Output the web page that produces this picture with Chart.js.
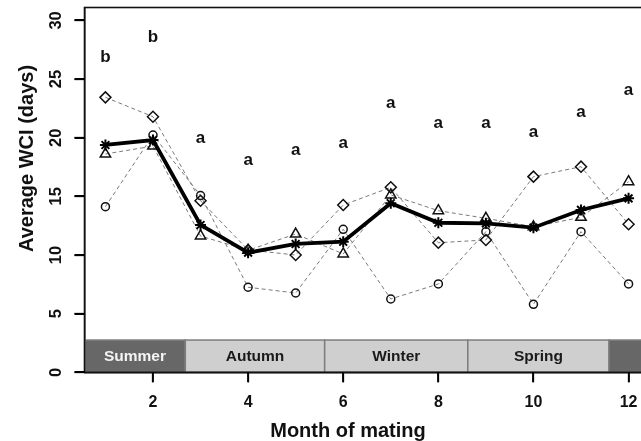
<!DOCTYPE html>
<html><head><meta charset="utf-8">
<script src="https://cdn.jsdelivr.net/npm/chart.js@4.4.0/dist/chart.umd.min.js"></script>
<style>
html,body{margin:0;padding:0;background:#fff;overflow:hidden;width:641px;height:441px}
#wrap{position:relative;width:660px;height:441px}
</style></head>
<body><div id="wrap"><canvas id="c" width="660" height="441"></canvas></div>
<script>
// ---- data ----
const months = [1,2,3,4,5,6,7,8,9,10,11,12];
const meanWCI     = [19.38,19.80,12.56,10.20,10.94,11.13,14.41,12.75,12.70,12.33,13.84,14.83];
const diamondWCI  = [23.44,21.79,14.63,10.43,10.00,14.26,15.77,11.05,11.28,16.68,17.53,12.62];
const triangleWCI = [18.61,19.29,11.62,10.40,11.79,10.09,15.12,13.78,13.13,12.40,13.21,16.25];
const circleWCI   = [14.12,20.23,15.07,7.25,6.76,12.19,6.25,7.53,11.99,5.80,11.99,7.53];
const groupLetters = ['b','b','a','a','a','a','a','a','a','a','a','a'];
const letterY      = [26.85,28.6,19.95,18.1,18.95,19.5,22.9,21.2,21.2,20.5,22.2,24.0];
const xTicks = [2,4,6,8,10,12];
const yTicks = [0,5,10,15,20,25,30];
const seasons     = ['Summer','Autumn','Winter','Spring',''];
const seasonStart = [0.56,2.68,5.61,8.62,11.59];
const seasonEnd   = [2.68,5.61,8.62,11.59,12.44];
const seasonTop = 2.75;
const xTitle = 'Month of mating';
const yTitle = 'Average WCI (days)';

const FONT = '"Liberation Sans", Arial, Helvetica, sans-serif';
const pts = arr => months.map((m,i)=>({x:m,y:arr[i]}));

const decor = {
  id:'decor',
  beforeDatasetsDraw(chart){
    const {ctx, chartArea:a, scales:{x,y}} = chart;
    ctx.save();
    ctx.beginPath(); ctx.rect(a.left,a.top,a.right-a.left,a.bottom-a.top); ctx.clip();
    const yb = y.getPixelForValue(0), yt = y.getPixelForValue(seasonTop);
    seasons.forEach((s,i)=>{
      const x0 = x.getPixelForValue(seasonStart[i]), x1 = x.getPixelForValue(seasonEnd[i]);
      const dark = (i===0 || i===seasons.length-1);
      ctx.fillStyle = dark ? '#676767' : '#cfcfcf';
      ctx.fillRect(x0,yt,x1-x0,yb-yt);
      ctx.strokeStyle = '#7d7d7d'; ctx.lineWidth = 1.5;
      ctx.strokeRect(x0,yt,x1-x0,yb-yt);
      if (s) {
        ctx.fillStyle = dark ? '#f4f4f4' : '#1a1a1a';
        ctx.font = 'bold 15.5px ' + FONT;
        ctx.textAlign = 'center'; ctx.textBaseline = 'middle';
        ctx.fillText(s,(x0+x1)/2,(yt+yb)/2+1);
      }
    });
    ctx.restore();
  },
  afterDatasetsDraw(chart){
    const {ctx, scales:{x,y}} = chart;
    ctx.save();
    ctx.fillStyle = '#111';
    ctx.font = 'bold 17px ' + FONT;
    ctx.textAlign = 'center'; ctx.textBaseline = 'middle';
    groupLetters.forEach((l,i)=>{
      ctx.fillText(l, x.getPixelForValue(months[i]), y.getPixelForValue(letterY[i]));
    });
    ctx.restore();
  },
  afterDraw(chart){
    const {ctx, chartArea:a, scales:{x,y}} = chart;
    ctx.save();
    ctx.strokeStyle = '#111'; ctx.lineWidth = 1.6;
    ctx.strokeRect(a.left, a.top, a.right-a.left, a.bottom-a.top);
    // tick marks
    ctx.strokeStyle = '#000';
    ctx.lineWidth = 1.8;
    ctx.beginPath();
    xTicks.forEach(v=>{ const px = Math.round(x.getPixelForValue(v)); ctx.moveTo(px, a.bottom); ctx.lineTo(px, a.bottom+10); });
    yTicks.forEach(v=>{ const py = Math.round(y.getPixelForValue(v)); ctx.moveTo(a.left, py); ctx.lineTo(a.left-10, py); });
    ctx.stroke();
    ctx.fillStyle = '#111';
    ctx.font = 'bold 20px ' + FONT;
    ctx.textAlign = 'center'; ctx.textBaseline = 'alphabetic';
    ctx.fillText(xTitle, 348, 436.5);
    ctx.translate(33, 158.5);
    ctx.rotate(-Math.PI/2);
    ctx.fillText(yTitle, 0, 0);
    ctx.restore();
  }
};

const dashed = {borderColor:'#7a7a7a', borderWidth:1, borderDash:[4,3],
  pointBorderColor:'#111', pointBorderWidth:1.5, pointBackgroundColor:'rgba(0,0,0,0)',
  backgroundColor:'rgba(0,0,0,0)', fill:false, tension:0, order:1};

new Chart(document.getElementById('c'), {
  type:'line',
  data:{datasets:[
    {label:'Mean', data:pts(meanWCI), borderColor:'#000', borderWidth:3.8, pointStyle:'star',
     pointRadius:5.5, pointBorderWidth:2, pointBorderColor:'#000', pointBackgroundColor:'rgba(0,0,0,0)',
     backgroundColor:'rgba(0,0,0,0)', fill:false, tension:0, order:0},
    Object.assign({label:'diamond', data:pts(diamondWCI), pointStyle:'rectRot', pointRadius:5.5}, dashed),
    Object.assign({label:'triangle', data:pts(triangleWCI), pointStyle:'triangle', pointRadius:6}, dashed),
    Object.assign({label:'circle', data:pts(circleWCI), pointStyle:'circle', pointRadius:4}, dashed)
  ]},
  options:{
    responsive:false, animation:false, events:[],
    layout:{padding:{top:7, right:10.5, left:0, bottom:0}},
    plugins:{legend:{display:false}, tooltip:{enabled:false}},
    scales:{
      x:{type:'linear', min:0.56, max:12.44,
        afterBuildTicks(s){ s.ticks = xTicks.map(v=>({value:v})); },
        afterFit(s){ s.height = 68.7; s.paddingLeft = 0; s.paddingRight = 0; },
        grid:{drawOnChartArea:false, tickLength:10, tickColor:'#111', tickWidth:1.3},
        border:{display:true, color:'#111', width:1.5},
        ticks:{padding:11, color:'#111', autoSkip:false, maxRotation:0,
          font:{family:FONT, size:16, weight:'bold'}}
      },
      y:{type:'linear', min:0, max:31.1,
        afterBuildTicks(s){ s.ticks = yTicks.map(v=>({value:v})); },
        afterFit(s){ s.width = 84.5; s.paddingTop = 0; s.paddingBottom = 0; },
        grid:{drawOnChartArea:false, tickLength:10, tickColor:'#111', tickWidth:1.3},
        border:{display:true, color:'#111', width:1.5},
        ticks:{padding:9, color:'#111', autoSkip:false, minRotation:90, maxRotation:90, crossAlign:'center',
          font:{family:FONT, size:16.5, weight:'bold'}}
      }
    }
  },
  plugins:[decor]
});
</script>
</body></html>
